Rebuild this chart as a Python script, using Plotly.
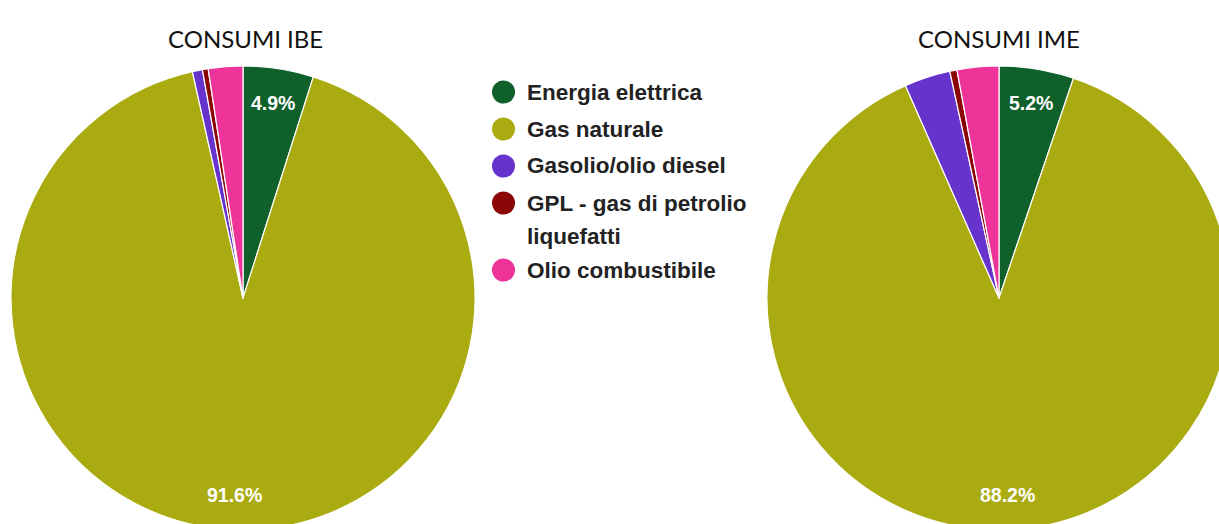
import math
import plotly.graph_objects as go

# Energy consumption shares (%) for the two sites
categories = ["Energia elettrica", "Gas naturale", "Gasolio/olio diesel",
              "GPL - gas di petrolio liquefatti", "Olio combustibile"]
legend_lines = [["Energia elettrica"], ["Gas naturale"], ["Gasolio/olio diesel"],
                ["GPL - gas di petrolio", "liquefatti"], ["Olio combustibile"]]
colors = ["#10602b", "#aaaa11", "#6633cc", "#8b0707", "#ee3399"]
ibe_values = [4.9, 91.6, 0.7, 0.4, 2.4]
ime_values = [5.2, 88.2, 3.2, 0.5, 2.9]
titles = ["CONSUMI IBE", "CONSUMI IME"]

# canvas in pixels (slightly larger than the visible page so the pies bleed off the edges)
W, H = 1240, 540
R = 232
centers = [(243, 298), (999, 298)]
title_pos = [(245, 38), (999, 38)]


def px(x):
    return x / W


def py(y):
    return 1 - y / H


fig = go.Figure()
annotations = []
shapes = []

for (cx, cy), values, title, tpos in zip(centers, [ibe_values, ime_values], titles, title_pos):
    fig.add_trace(go.Pie(
        values=values,
        labels=categories,
        sort=False,
        direction="clockwise",
        rotation=0,
        marker=dict(colors=colors, line=dict(color="white", width=1.2)),
        textinfo="none",
        hovertemplate="%{label}: %{percent}<extra></extra>",
        showlegend=False,
        domain=dict(x=[px(cx - R), px(cx + R)], y=[py(cy + R), py(cy - R)]),
    ))
    # percentage labels on the larger slices
    total = sum(values)
    cum = 0.0
    for v in values:
        mid = (cum + v / 2) / total * 2 * math.pi
        cum += v
        if v / total < 0.04:
            continue
        lx = cx + 0.85 * R * math.sin(mid)
        ly = cy - 0.85 * R * math.cos(mid)
        annotations.append(dict(
            x=px(lx), y=py(ly), xref="paper", yref="paper",
            text=f"{v / total * 100:.1f}%", showarrow=False,
            xanchor="center", yanchor="middle",
            font=dict(family="Liberation Sans, Arial", size=19.5, color="white", weight="bold"),
        ))
    annotations.append(dict(
        x=px(tpos[0]), y=py(tpos[1]), xref="paper", yref="paper",
        text=title, showarrow=False, xanchor="center", yanchor="middle",
        font=dict(family="Lato, Carlito, sans-serif", size=24, color="#111111"),
    ))

# legend drawn between the two pies
leg_x, text_x, dot_d = 503.5, 525, 23
leg_y = [92, 129, 166, 203, 270]
line_gap = 33
for name_lines, color, y in zip(legend_lines, colors, leg_y):
    shapes.append(dict(
        type="circle", xref="paper", yref="paper",
        x0=px(leg_x - dot_d / 2), x1=px(leg_x + dot_d / 2),
        y0=py(y + dot_d / 2), y1=py(y - dot_d / 2),
        fillcolor=color, line=dict(width=0),
    ))
    for i, line in enumerate(name_lines):
        annotations.append(dict(
            x=px(text_x), y=py(y + i * line_gap), xref="paper", yref="paper",
            text=line, showarrow=False, xanchor="left", yanchor="middle",
            font=dict(family="Liberation Sans, Arial", size=22.5, color="#222222", weight="bold"),
        ))

fig.update_layout(
    width=W, height=H,
    margin=dict(l=0, r=0, t=0, b=0),
    paper_bgcolor="white", plot_bgcolor="white",
    annotations=annotations, shapes=shapes,
)

fig.write_html(
    "out.html",
    post_script=(
        "document.body.style.margin='0';"
        "document.body.style.overflow='hidden';"
        "document.documentElement.style.overflow='hidden';"
    ),
)
